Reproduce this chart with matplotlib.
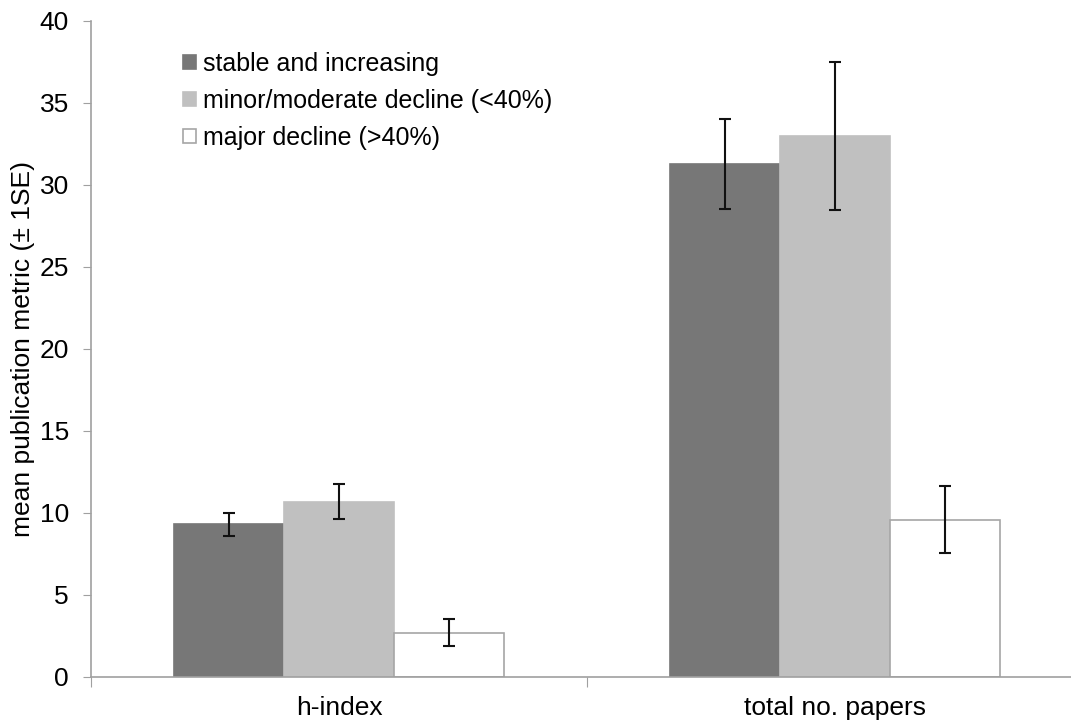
import numpy as np
import matplotlib.pyplot as plt

plt.rcParams['font.family'] = ['Liberation Sans', 'DejaVu Sans']

# Data
groups = ["h-index", "total no. papers"]
series = ["stable and increasing", "minor/moderate decline (<40%)", "major decline (>40%)"]
means = {
    "stable and increasing": [9.3, 31.3],
    "minor/moderate decline (<40%)": [10.7, 33.0],
    "major decline (>40%)": [2.7, 9.6],
}
errors = {
    "stable and increasing": [0.72, 2.75],
    "minor/moderate decline (<40%)": [1.08, 4.5],
    "major decline (>40%)": [0.83, 2.05],
}
face_colors = ["#777777", "#c0c0c0", "#ffffff"]
edge_colors = ["#777777", "#c0c0c0", "#a6a6a6"]

W, H = 1071, 723
fig = plt.figure(figsize=(W / 100, H / 100), dpi=100)
ax = fig.add_axes([91 / W, (H - 677) / H, (1083 - 91) / W, (677 - 21) / H])

x = np.arange(len(groups))
width = 0.222
offsets = [-width, 0, width]
for s, off, fc, ec in zip(series, offsets, face_colors, edge_colors):
    ax.bar(x + off, means[s], width, color=fc, edgecolor=ec, linewidth=1.2,
           label=s, zorder=2)
    ax.errorbar(x + off, means[s], yerr=errors[s], fmt="none", ecolor="#111111",
                elinewidth=1.5, capsize=4, capthick=1.5, zorder=3)

ax.set_xlim(-0.5, 1.5)
ax.set_ylim(0, 40)
ax.set_yticks(range(0, 41, 5))
ax.set_xticks([-0.5, 0.5], minor=False)
ax.set_xticklabels([])
ax.set_xticks(x, minor=True)
ax.set_xticklabels(groups, minor=True)
ax.tick_params(axis="x", which="minor", length=0, pad=14, labelsize=19)
ax.tick_params(axis="x", which="major", length=7, color="#a0a0a0", direction="out")
ax.tick_params(axis="y", length=6, color="#a0a0a0", direction="out", labelsize=19, pad=10)

for side in ["top", "right"]:
    ax.spines[side].set_visible(False)
for side in ["left", "bottom"]:
    ax.spines[side].set_color("#a0a0a0")
    ax.spines[side].set_linewidth(1.2)

ax.set_ylabel("mean publication metric (± 1SE)", fontsize=19, labelpad=3)

ax.legend(loc="upper left", bbox_to_anchor=(183 / W, 1 - 52 / H), bbox_transform=fig.transFigure,
          frameon=False, fontsize=18, handlelength=0.5, handleheight=0.5,
          handletextpad=0.3, labelspacing=0.52, borderaxespad=0, borderpad=0)

fig.savefig("out.png", dpi=100)
